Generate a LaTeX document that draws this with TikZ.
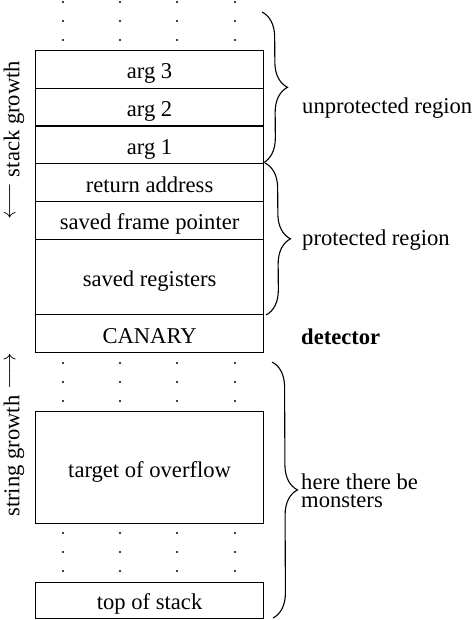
\RequirePackage{fix-cm}
\documentclass[tikz,border=0pt]{standalone}
\usepackage{fontspec}
\setmainfont{Liberation Serif}
\usetikzlibrary{decorations.pathreplacing}
\begin{document}
\begin{tikzpicture}[x=1pt,y=-1pt,
  every node/.style={font=\fontsize{22.6}{18}\selectfont, inner sep=0pt},
  cell/.style={draw, line width=1.2pt, minimum width=228pt, anchor=north west,
    text height=19pt, text depth=0pt},
  brc/.style={decorate, decoration={brace, amplitude=25pt}, line width=1.1pt},
  lbl/.style={anchor=west, align=left},
  side/.style={rotate=90, anchor=base},
  dotc/.style={fill=black}]
\useasboundingbox (0,0) rectangle (474,620);
% cells
\node[cell, minimum height=37.75pt] (arg3) at (35,50) {arg 3};
\node[cell, minimum height=37.75pt] (arg2) at (35,87.75) {arg 2};
\node[cell, minimum height=37.75pt] (arg1) at (35,125.5) {arg 1};
\node[cell, minimum height=37.75pt] (ret) at (35,163.25) {return address};
\node[cell, minimum height=37.75pt] (sfp) at (35,201) {saved frame pointer};
\node[cell, minimum height=75.5pt] (sr) at (35,238.75) {saved registers};
\node[cell, minimum height=37.75pt] (can) at (35,314.25) {CANARY};
\node[cell, minimum height=112.5pt] (tgt) at (35,410.75) {target of overflow};
\node[cell, minimum height=36.5pt] (tos) at (35,581.5) {top of stack};
% dots
\foreach \x in {63,120,177,235}{
  \foreach \y in {2,21,40,363,382,401,533,552,571}{
    \fill[dotc] (\x,\y) circle (1.1pt);
  }
}
% braces
\coordinate (u1) at (262,12);
\coordinate (u2) at (263,163);
\coordinate (p1) at (265,163);
\coordinate (p2) at (266,315);
\coordinate (m1) at (272,362);
\coordinate (m2) at (273,618);
\draw[brc] (u1) -- (u2);
\draw[brc] (p1) -- (p2);
\draw[brc] (m1) -- (m2);
% labels
\node[lbl] (unp) at (302,108) {unprotected region};
\node[lbl] (pro) at (302,240) {protected region};
\node[lbl] (det) at (301,337) {\textbf{detector}};
\node[lbl] (mon) at (301,491) {here there be\\monsters};
\node[side] (stk) at (19.5,140) {\raisebox{4pt}{$\longleftarrow$} stack growth};
\node[side] (str) at (19.5,435) {string growth \raisebox{4pt}{$\longrightarrow$}};
\end{tikzpicture}
\end{document}
